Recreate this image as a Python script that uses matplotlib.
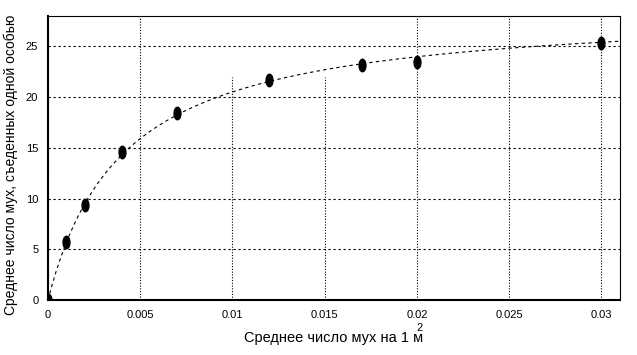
import numpy as np
import matplotlib
matplotlib.use("Agg")
from matplotlib import pyplot as plt
from matplotlib.path import Path
from matplotlib.transforms import Affine2D

# flies per m^2 vs flies eaten by one individual
flyDensity = [0.0, 0.001, 0.002, 0.004, 0.007, 0.012, 0.017, 0.020, 0.030]
fliesEaten = [0.0, 5.7, 9.4, 14.6, 18.4, 21.7, 23.2, 23.5, 25.3]

xTicks = [0, 0.005, 0.01, 0.015, 0.02, 0.025, 0.03]
xTickLabels = ["0", "0.005", "0.01", "0.015", "0.02", "0.025", "0.03"]
yTicks = [0, 5, 10, 15, 20, 25]

plt.rcParams['font.family'] = ['Liberation Sans', 'DejaVu Sans']

fig = plt.figure(figsize=(6.37, 3.55), dpi=100)
ax = fig.add_axes([0.0754, 0.155, 0.8976, 0.80])

# Holling type II fit through the linearised form 1/y = 1/(a x) + b/a
xs = np.array(flyDensity[1:])
ys = np.array(fliesEaten[1:])
slope, icept = np.polyfit(1 / xs, 1 / ys, 1)
a = 1 / slope
b = icept * a
xFit = np.linspace(0, 0.031, 300)
ax.plot(xFit, a * xFit / (1 + b * xFit), color='black', lw=0.8,
        linestyle=(0, (3, 3)))

# tall oval markers
oval = Path.unit_circle().transformed(Affine2D().scale(0.55, 1.0))
ax.plot(flyDensity, fliesEaten, linestyle='none', marker=oval,
        markersize=9, color='black')

# grid, two of the verticals stop short like in the original
vTops = [28, 28, 22, 22, 28, 28, 28]
for xv, top in zip(xTicks, vTops):
    ax.plot([xv, xv], [0, top], color='black', lw=0.8, linestyle=(0, (1, 1.5)),
            zorder=0)
for yv in yTicks:
    ax.axhline(yv, color='black', lw=0.8, linestyle=(0, (2, 2.5)), zorder=0)

ax.set_xlim(0, 0.031)
ax.set_ylim(0, 28)
ax.set_xticks(xTicks)
ax.set_xticklabels(xTickLabels)
ax.set_yticks(yTicks)
ax.tick_params(length=0, labelsize=8, pad=7)

for side in ['left', 'bottom']:
    ax.spines[side].set_linewidth(1.5)
for side in ['top', 'right']:
    ax.spines[side].set_linewidth(0.8)

ax.set_xlabel("Среднее число мух на 1 м", fontsize=10.5, labelpad=8)
ax.set_ylabel("Среднее число мух, съеденных одной особью", fontsize=10)
ax.yaxis.set_label_coords(-0.052, 0.475)
fig.text(0.653, 0.068, "2", fontsize=8)

fig.savefig("out.png", dpi=100)
